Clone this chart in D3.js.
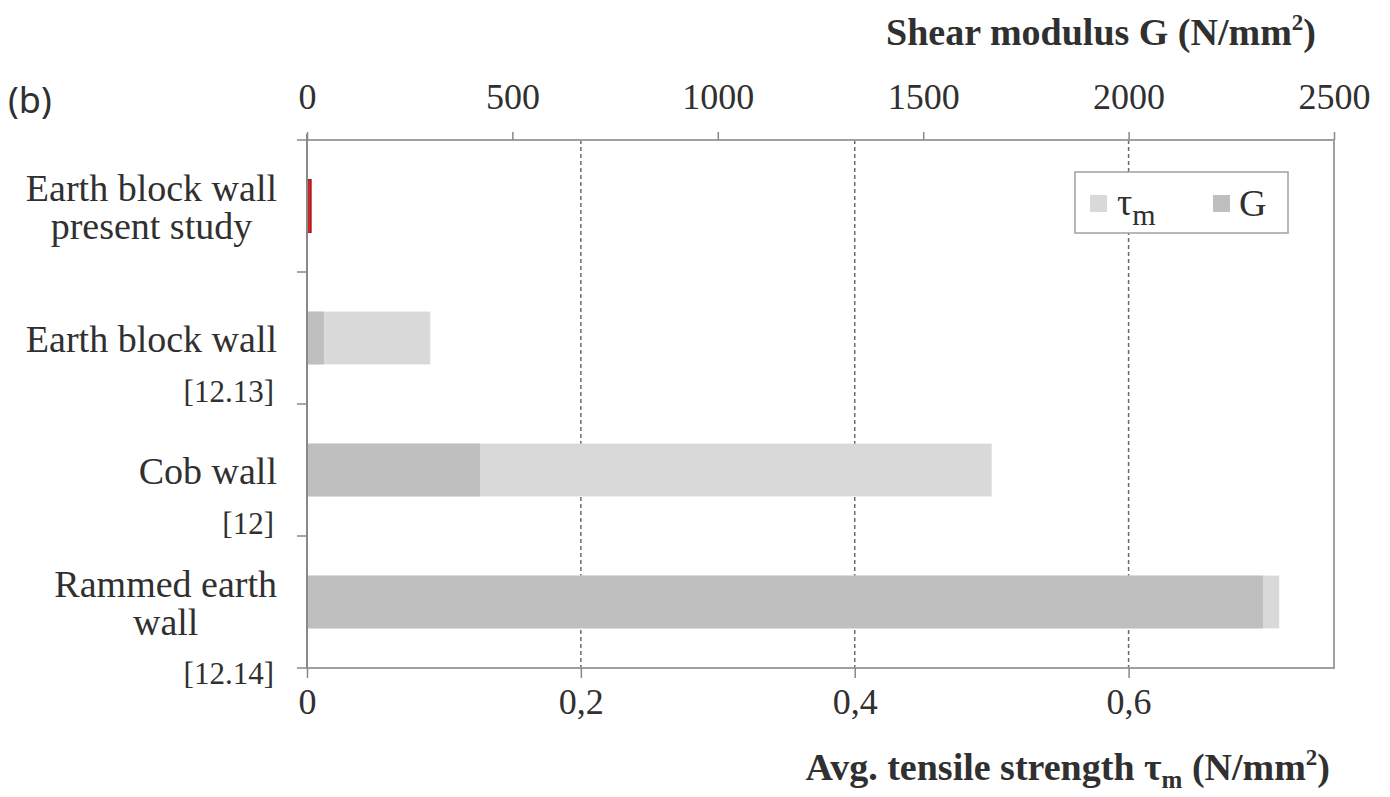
<!DOCTYPE html>
<html>
<head>
<meta charset="utf-8">
<script src="https://cdn.jsdelivr.net/npm/d3@7"></script>
<style>
  body { margin: 0; background: #fff; }
  svg text { font-family: "Liberation Serif", "Times New Roman", serif; fill: #303030; }
</style>
</head>
<body>
<svg width="1390" height="797"></svg>
<script>
// data
var categories = ["present", "ebw", "cob", "rammed"];
var labelLines = [["Earth block wall", "present study"], ["Earth block wall"], ["Cob wall"], ["Rammed earth", "wall"]];
var references = ["", "[12.13]", "[12]", "[12.14]"];
var tauValues = [0.003, 0.09, 0.50, 0.71];   // N/mm2, bottom axis
var gValues = [3, 41, 421, 2327];              // N/mm2, top axis
var tauTicks = [0, 0.2, 0.4, 0.6];
var gTicks = [0, 500, 1000, 1500, 2000, 2500];
var highlight = "present";

var svg = d3.select("svg"),
  margin = {top: 140, right: 56, bottom: 129, left: 307},
  W = +svg.attr("width"), H = +svg.attr("height"),
  x0 = margin.left, x1 = W - margin.right,
  y0 = margin.top, y1 = H - margin.bottom;

var xTau = d3.scaleLinear().domain([0, 0.75]).range([x0, x1]);
var xG = d3.scaleLinear().domain([0, 2500]).range([x0, x1]);
var y = d3.scaleBand().domain(categories).range([y0, y1])
          .paddingInner(0.6).paddingOuter(0.3);

var comma = d3.formatLocale({decimal: ",", thousands: ".", grouping: [3], currency: ["", ""]}).format("~g");

// dashed gridlines
svg.append("g")
  .selectAll("line")
  .data(tauTicks.slice(1))
  .enter().append("line")
    .attr("x1", function(d) { return xTau(d); })
    .attr("x2", function(d) { return xTau(d); })
    .attr("y1", y0).attr("y2", y1)
    .attr("stroke", "#6a6a6a")
    .attr("stroke-width", 1.5)
    .attr("stroke-dasharray", "4,3");

// tau bars (behind)
svg.append("g")
  .selectAll("rect")
  .data(categories)
  .enter().append("rect")
    .attr("x", x0)
    .attr("y", function(d) { return y(d); })
    .attr("width", function(d, i) { return xTau(tauValues[i]) - x0; })
    .attr("height", y.bandwidth())
    .attr("fill", function(d) { return d === highlight ? "#d4262a" : "#d9d9d9"; })
    .attr("stroke", function(d) { return d === highlight ? "#8a0f12" : "none"; });

// G bars (front)
svg.append("g")
  .selectAll("rect")
  .data(categories)
  .enter().append("rect")
    .attr("x", x0)
    .attr("y", function(d) { return y(d); })
    .attr("width", function(d, i) { return xG(gValues[i]) - x0; })
    .attr("height", y.bandwidth())
    .attr("fill", function(d) { return d === highlight ? "#b0161b" : "#bfbfbf"; });

// frame
svg.append("rect")
  .attr("x", x0).attr("y", y0)
  .attr("width", x1 - x0).attr("height", y1 - y0)
  .attr("fill", "none")
  .attr("stroke", "#a0a0a0")
  .attr("stroke-width", 2);

// bottom axis
var bottomAxis = svg.append("g")
  .attr("transform", "translate(0," + y1 + ")")
  .call(d3.axisBottom(xTau).tickValues(tauTicks).tickFormat(comma).tickSize(10).tickPadding(10));
bottomAxis.select(".domain").remove();
bottomAxis.selectAll("line").attr("stroke", "#888").attr("stroke-width", 1.5);
bottomAxis.selectAll("text").attr("font-size", 36).attr("fill", "#303030");

// top axis
var topAxis = svg.append("g")
  .attr("transform", "translate(0," + y0 + ")")
  .call(d3.axisTop(xG).tickValues(gTicks).tickFormat(d3.format("d")).tickSize(8).tickPadding(23));
topAxis.select(".domain").remove();
topAxis.selectAll("line").attr("stroke", "#888").attr("stroke-width", 1.5);
topAxis.selectAll("text").attr("font-size", 36).attr("fill", "#303030");

// left axis: line and ticks at band boundaries
var step = y.step();
var bounds = categories.map(function(d) { return y(d) - step * 0.3; }).concat([y1]);
svg.append("line")
  .attr("x1", x0).attr("x2", x0).attr("y1", y0 - 6).attr("y2", y1)
  .attr("stroke", "#888").attr("stroke-width", 2);
svg.append("g")
  .selectAll("line")
  .data(bounds)
  .enter().append("line")
    .attr("x1", x0 - 10).attr("x2", x0)
    .attr("y1", function(d) { return d; }).attr("y2", function(d) { return d; })
    .attr("stroke", "#888").attr("stroke-width", 1.5);

// category labels
var labelRight = 277;
categories.forEach(function(c, i) {
  var cy = y(c) + y.bandwidth() / 2;
  var lines = labelLines[i];
  var g = svg.append("g");
  var texts = lines.map(function(t, j) {
    return g.append("text")
      .attr("y", cy + 14 - (lines.length - 1) * 19 + j * 38)
      .attr("font-size", 38)
      .attr("text-anchor", "middle")
      .text(t);
  });
  var maxLen = d3.max(texts, function(t) { return t.node().getComputedTextLength(); });
  texts.forEach(function(t) { t.attr("x", labelRight - maxLen / 2); });
  if (references[i]) {
    g.append("text")
      .attr("x", 274)
      .attr("y", cy + 14 + (lines.length - 1) * 18 + 50)
      .attr("font-size", 31)
      .attr("text-anchor", "end")
      .text(references[i]);
  }
});

// axis titles
var topTitle = svg.append("text")
  .attr("x", 1316).attr("y", 45)
  .attr("text-anchor", "end")
  .attr("font-size", 38)
  .attr("font-weight", "bold");
topTitle.append("tspan").text("Shear modulus  G (N/mm");
topTitle.append("tspan").attr("font-size", 23).attr("dy", -15).text("2");
topTitle.append("tspan").attr("dy", 15).text(")");

var botTitle = svg.append("text")
  .attr("x", 1330).attr("y", 780)
  .attr("text-anchor", "end")
  .attr("font-size", 38)
  .attr("font-weight", "bold");
botTitle.append("tspan").text("Avg. tensile strength \u03c4");
botTitle.append("tspan").attr("font-size", 25).attr("dy", 8).text("m");
botTitle.append("tspan").attr("dy", -8).text(" (N/mm");
botTitle.append("tspan").attr("font-size", 23).attr("dy", -15).text("2");
botTitle.append("tspan").attr("dy", 15).text(")");

// panel letter
svg.append("text")
  .attr("x", 8).attr("y", 113)
  .attr("font-size", 36)
  .style("font-family", "'Noto Sans', 'DejaVu Sans', sans-serif")
  .text("(b)");

// legend
var legend = svg.append("g").attr("transform", "translate(1075,172)");
legend.append("rect")
  .attr("width", 213).attr("height", 61)
  .attr("fill", "#fff").attr("stroke", "#a0a0a0").attr("stroke-width", 1.5);
legend.append("rect").attr("x", 15).attr("y", 23).attr("width", 17).attr("height", 17).attr("fill", "#d9d9d9");
var lt = legend.append("text").attr("x", 42).attr("y", 43).attr("font-size", 38);
lt.append("tspan").text("\u03c4");
lt.append("tspan").attr("font-size", 30).attr("dy", 10).text("m");
legend.append("rect").attr("x", 138).attr("y", 23).attr("width", 17).attr("height", 17).attr("fill", "#bfbfbf");
legend.append("text").attr("x", 164).attr("y", 44).attr("font-size", 38).text("G");
</script>
</body>
</html>
